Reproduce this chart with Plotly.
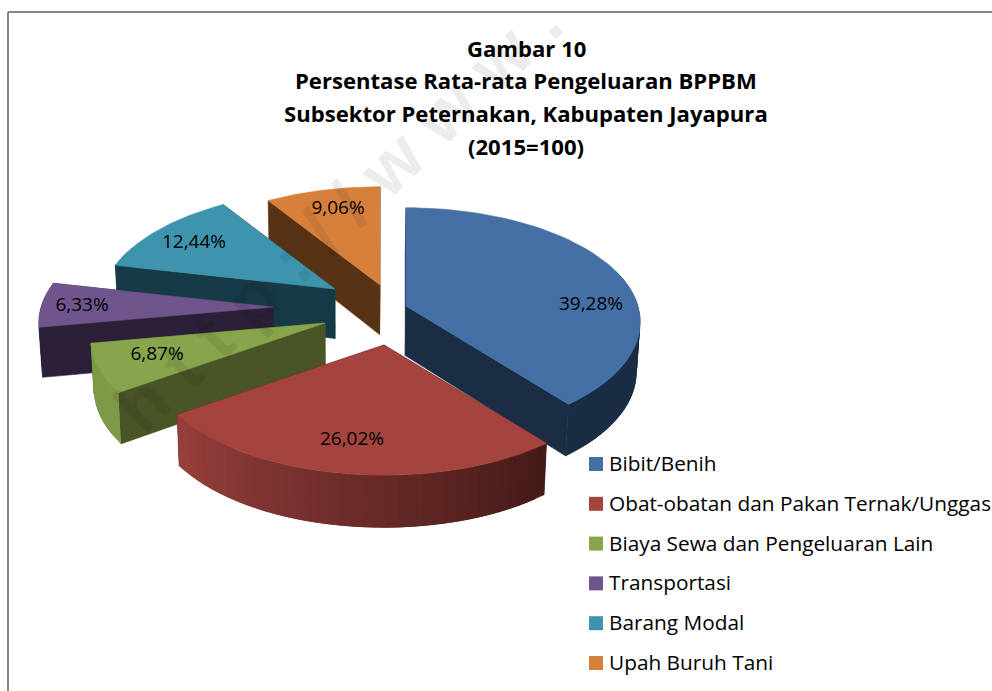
import math
import plotly.graph_objects as go

categories = ["Bibit/Benih", "Obat-obatan dan Pakan Ternak/Unggas", "Biaya Sewa dan Pengeluaran Lain",
              "Transportasi", "Barang Modal", "Upah Buruh Tani"]
shares = [39.28, 26.02, 6.87, 6.33, 12.44, 9.06]
title_lines = ["Gambar 10", "Persentase Rata-rata Pengeluaran BPPBM",
               "Subsektor Peternakan, Kabupaten Jayapura", "(2015=100)"]

# styling
top_colors = ["#4570a6", "#a5433f", "#87a54c", "#70558c", "#3f94ad", "#d6803b"]
wall_dark = ["#1a2d45", "#431a17", "#7d9a47", "#2c2038", "#173a47", "#573214"]
wall_bright = ["#1a2d45", "#983f3c", "#7d9a47", "#2c2038", "#173a47", "#573214"]
radial_colors = ["#1a2d45", "#431a17", "#4a5527", "#2c2038", "#173a47", "#573214"]
origins = [(406, 306), (384, 345), (325, 323), (273, 307), (335, 289), (380, 285)]
label_pos = [(591, 305), (352, 440), (157, 355), (82, 306), (194, 243), (338, 209)]
draw_order = [5, 4, 3, 2, 0, 1]
RX, RY, K, DEPTH = 232, 112, 0.14, 49.5


def project(o, th):
    u, v = math.sin(th), math.cos(th)
    w = 1 + K * v
    return o[0] + RX * u / w, o[1] - RY * v / w, v


def drop(x, y, v):
    return x - 0.012 * (x - 340), y + DEPTH * (1 - 0.06 * v)


def lerp(c1, c2, t):
    a = [int(c1[i:i + 2], 16) for i in (1, 3, 5)]
    b = [int(c2[i:i + 2], 16) for i in (1, 3, 5)]
    return "rgb(%d,%d,%d)" % tuple(round(p + (q - p) * t) for p, q in zip(a, b))


def poly(xs, ys, color, edge=0.6):
    return go.Scatter(x=xs + xs[:1], y=ys + ys[:1], mode="lines", fill="toself", fillcolor=color,
                      line=dict(color=color, width=edge), hoverinfo="skip", showlegend=False)


total = sum(shares)
edges = [0.0]
for s in shares:
    edges.append(edges[-1] + s / total * 2 * math.pi)

fig = go.Figure()
for i in draw_order:
    o = origins[i]
    t0, t1 = edges[i], edges[i + 1]
    # radial walls
    for th in (t0, t1):
        ex, ey, ev = project(o, th)
        bx, by = drop(ex, ey, ev)
        ox, oy = drop(o[0], o[1], 0)
        fig.add_trace(poly([o[0], ex, bx, ox], [o[1], ey, by, oy], radial_colors[i]))
    # outer wall, shaded by facing direction: strips painted from the far end with overlap
    n = max(3, int((t1 - t0) / math.radians(2.5)))
    arc = [t0 + (t1 - t0) * j / n for j in range(n + 1)]
    for j, (a, b) in enumerate(zip(arc[:-1], arc[1:])):
        if math.cos((a + b) / 2) > 0.35:
            continue
        mid = math.degrees((a + b) / 2)
        t = min(1, max(0, (mid - 141) / (235 - 141)))
        b2 = arc[min(j + 2, n)]
        ax, ay, av = project(o, a)
        cx, cy, cv = project(o, b2)
        dx, dy = drop(ax, ay, av)
        fx, fy = drop(cx, cy, cv)
        fig.add_trace(poly([ax, cx, fx, dx], [ay, cy, fy, dy], lerp(wall_dark[i], wall_bright[i], t), edge=0))
    # top face
    pts = [project(o, th) for th in [t0 + (t1 - t0) * j / 60 for j in range(61)]]
    fig.add_trace(poly([o[0]] + [p[0] for p in pts], [o[1]] + [p[1] for p in pts], top_colors[i]))

# value labels
fig.add_trace(go.Scatter(x=[p[0] for p in label_pos], y=[p[1] for p in label_pos], mode="text",
                         text=[f"{s:.2f}%".replace(".", ",") for s in shares],
                         textfont=dict(family="Open Sans", size=19, color="#000000"),
                         hoverinfo="skip", showlegend=False))

# legend
for k, (cat, col) in enumerate(zip(categories, top_colors)):
    y = 464 + k * 39.8
    fig.add_trace(go.Scatter(x=[596], y=[y], mode="markers", marker=dict(symbol="square", size=14, color=col),
                             hoverinfo="skip", showlegend=False))
    fig.add_annotation(x=609, y=y - 1, xref="x", yref="y", text=cat, showarrow=False, xanchor="left", yanchor="middle",
                       xshift=-2, font=dict(family="Open Sans", size=20.8, color="#000000"))

annotations_y = [48, 80, 113, 146]
for line, y in zip(title_lines, annotations_y):
    fig.add_annotation(x=526, y=y, xref="x", yref="y", text=f"<b>{line}</b>", showarrow=False,
                       font=dict(family="Open Sans", size=22.1, color="#000000"))

# watermark
fig.add_annotation(x=338, y=215, xref="x", yref="y", text="<b>h t t p : / / w w w .</b>", showarrow=False, textangle=-44,
                   font=dict(family="Liberation Sans", size=72, color="rgba(0,0,0,0.075)"))

# frame
fig.add_shape(type="line", x0=8, x1=8, y0=12, y1=691, xref="x", yref="y", line=dict(color="#888888", width=2))
fig.add_shape(type="line", x0=8, x1=992, y0=12, y1=12, xref="x", yref="y", line=dict(color="#888888", width=2))

fig.update_xaxes(range=[0, 992], visible=False, fixedrange=True)
fig.update_yaxes(range=[691, 0], visible=False, fixedrange=True)
fig.update_layout(width=992, height=691, margin=dict(l=0, r=0, t=0, b=0), paper_bgcolor="white",
                  plot_bgcolor="white", showlegend=False)
fig.write_html("out.html", config={"displayModeBar": False},
               post_script="document.body.style.margin='0';document.documentElement.style.overflow='hidden';")
